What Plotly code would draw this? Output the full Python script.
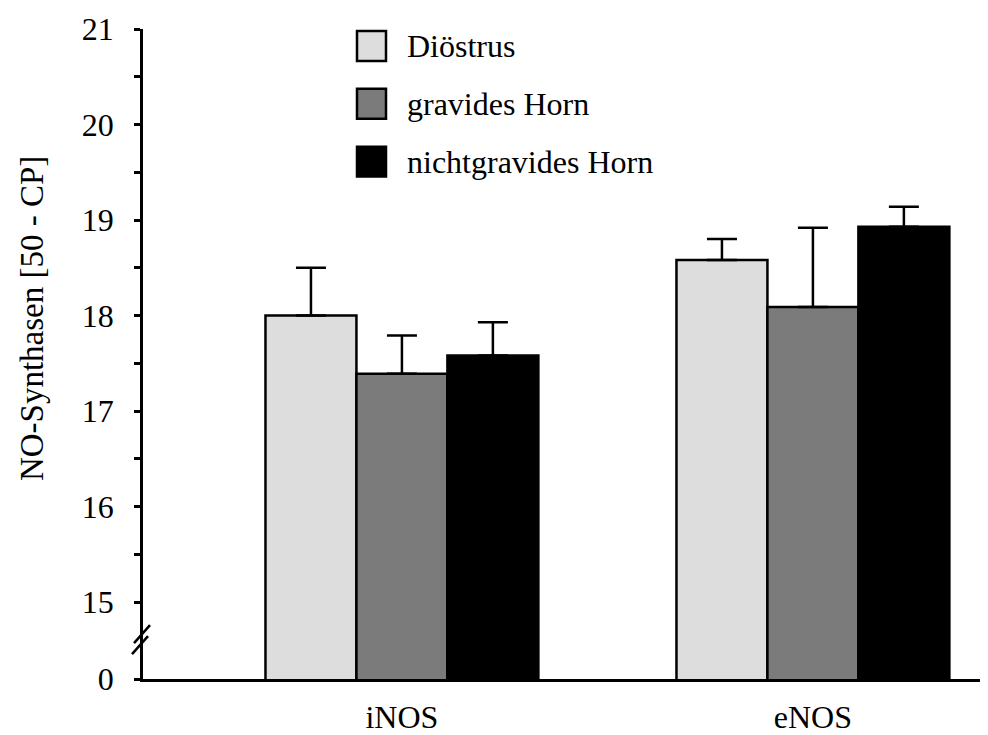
import plotly.graph_objects as go

# ---- data ----
categories = ["iNOS", "eNOS"]
series_names = ["Diöstrus", "gravides Horn", "nichtgravides Horn"]
diostrus_vals = [18.0, 18.58]
diostrus_err = [0.50, 0.22]
gravid_vals = [17.39, 18.09]
gravid_err = [0.40, 0.83]
nichtgravid_vals = [17.58, 18.93]
nichtgravid_err = [0.35, 0.21]
y_tick_labels = ["0", "15", "16", "17", "18", "19", "20", "21"]
y_tick_values = [15, 16, 17, 18, 19, 20, 21]
minor_tick_values = [15.5, 16.5, 17.5, 18.5, 19.5, 20.5]

# ---- layout constants (screen pixels; page body has an 8px default margin) ----
OFF = 8
W, H = 988 - OFF, 735 - OFF
L, R, T, B = 143, 988, 29, 681          # plot area in screen pixels
Y_BOTTOM = 14.194  # axis position standing for "0" (broken axis)
FONT = "Liberation Serif"
FS = 32

colors = ["#dddddd", "#7b7b7b", "#000000"]
vals = [diostrus_vals, gravid_vals, nichtgravid_vals]
errs = [diostrus_err, gravid_err, nichtgravid_err]

def px_x(px):
    return (px - L) / (R - L)

def px_y(py):
    return (B - py) / (B - T)

fig = go.Figure()
xpos = list(range(len(categories)))
for name, v, e, c in zip(series_names, vals, errs, colors):
    fig.add_trace(go.Bar(
        x=xpos, y=v, name=name, showlegend=False,
        marker=dict(color=c, line=dict(color="black", width=2.5)),
        error_y=dict(type="data", array=e, arrayminus=[0] * len(e), symmetric=False,
                     color="black", thickness=2.5, width=15),
    ))

tickvals = [Y_BOTTOM] + y_tick_values + minor_tick_values
ticktext = y_tick_labels + [""] * len(minor_tick_values)

fig.update_layout(
    width=W, height=H,
    margin=dict(l=L - OFF, r=(988 - R), t=T - OFF, b=(735 - B)),
    paper_bgcolor="white", plot_bgcolor="white",
    barmode="group", bargap=0.336, bargroupgap=0,
    font=dict(family=FONT, size=FS, color="black"),
    xaxis=dict(range=[-0.630, 1.426], tickvals=xpos, ticktext=categories,
               showline=True, linecolor="black", linewidth=2.5, ticks="",
               showgrid=False, zeroline=False, ticklabelstandoff=8,
               tickfont=dict(family=FONT, size=FS, color="black")),
    yaxis=dict(range=[Y_BOTTOM, 21], tickvals=tickvals, ticktext=ticktext,
               showline=True, linecolor="black", linewidth=2.5, ticks="outside",
               ticklen=6, tickwidth=2.5, tickcolor="black",
               showgrid=False, zeroline=False, ticklabelstandoff=14,
               tickfont=dict(family=FONT, size=FS, color="black")),
)

# y-axis title
fig.add_annotation(text="NO-Synthasen [50 - CP]", xref="paper", yref="paper",
                   x=px_x(32), y=px_y(320), textangle=-90, showarrow=False,
                   font=dict(family=FONT, size=33, color="black"),
                   xanchor="center", yanchor="middle")

# axis break marks
for (x0, y0, x1, y1) in [(134, 645, 150, 627), (132, 656, 148, 638)]:
    fig.add_shape(type="line", xref="paper", yref="paper",
                  x0=px_x(x0), y0=px_y(y0), x1=px_x(x1), y1=px_y(y1),
                  line=dict(color="black", width=2.5))

# manual legend
legend_rows = [46, 104, 162]
for name, c, yc in zip(series_names, colors, legend_rows):
    fig.add_shape(type="rect", xref="paper", yref="paper",
                  x0=px_x(357), x1=px_x(386), y0=px_y(yc - 15), y1=px_y(yc + 15),
                  fillcolor=c, line=dict(color="black", width=2.5))
    fig.add_annotation(text=name, xref="paper", yref="paper",
                       x=px_x(405), y=px_y(yc), showarrow=False,
                       xanchor="left", yanchor="middle",
                       font=dict(family=FONT, size=FS, color="black"))

fig.write_html("out.html")
